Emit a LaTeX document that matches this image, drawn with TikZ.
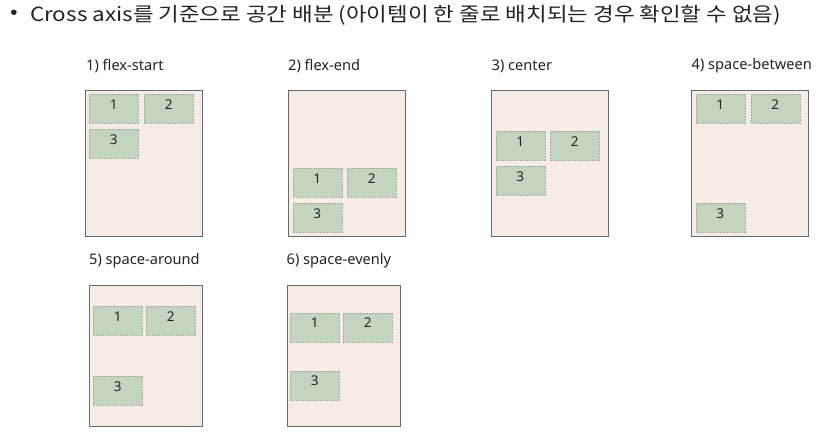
\documentclass[tikz,border=0pt]{standalone}
\usepackage{fontspec}
\setmainfont{Noto Sans}
\newfontfamily\krfont[FakeStretch=1.15]{Noto Sans CJK KR}
\definecolor{boxbg}{HTML}{F7ECE4}
\definecolor{boxborder}{HTML}{6A6A6A}
\definecolor{itemfill}{HTML}{C3D5BE}
\definecolor{itemborder}{HTML}{A3AFA0}
\definecolor{txt}{HTML}{222222}
\begin{document}
\begin{tikzpicture}[x=1pt,y=-1pt,
  container/.style={draw=boxborder,fill=boxbg,line width=0.8pt},
  item/.style={draw=itemborder,dash pattern=on 2pt off 1pt,line width=0.5pt,fill=itemfill,
    anchor=north west,minimum width=49pt,minimum height=29pt,inner sep=0pt},
  num/.style={font=\fontsize{13.5}{14}\selectfont,text=txt,inner sep=0pt},
  caption/.style={font=\fontsize{14.6}{15}\selectfont,text=txt,anchor=west,inner sep=0pt}]
\useasboundingbox (0,0) rectangle (824,441);
\node[font=\krfont\fontsize{19.5}{20}\selectfont,text=txt,inner sep=0pt] (bullet) at (14,14.5) {•};
\node[font=\krfont\fontsize{19.5}{20}\selectfont,text=txt,anchor=west,inner sep=0pt] (title) at (30,15)
  {Cross axis를 기준으로 공간 배분 (아이템이 한 줄로 배치되는 경우 확인할 수 없음)};
% panel 1
\node[caption] (c1) at (86,66) {1) flex-start};
\draw[container] (85,90) rectangle (202,236);
\node[item] (a1) at (89,94) {};
\node[item] (a2) at (144,94) {};
\node[item] (a3) at (89,129) {};
% panel 2
\node[caption] (c2) at (288,66) {2) flex-end};
\draw[container] (288.5,90) rectangle (405.5,236);
\node[item] (b1) at (292.5,168) {};
\node[item] (b2) at (347,168) {};
\node[item] (b3) at (292.5,203) {};
% panel 3
\node[caption] (c3) at (491.5,66) {3) center};
\draw[container] (491.5,90) rectangle (608.5,236);
\node[item] (d1) at (495.5,131) {};
\node[item] (d2) at (550,131) {};
\node[item] (d3) at (495.5,166) {};
% panel 4
\node[caption] (c4) at (691.5,66) {4) space-between};
\draw[container] (691.5,90) rectangle (808.5,236);
\node[item] (e1) at (695.5,94) {};
\node[item] (e2) at (750.5,94) {};
\node[item] (e3) at (695.5,203) {};
% panel 5
\node[caption] (c5) at (89,261) {5) space-around};
\draw[container] (89,285) rectangle (202.5,426);
\node[item] (f1) at (93,306) {};
\node[item] (f2) at (146,306) {};
\node[item] (f3) at (93,376) {};
% panel 6
\node[caption] (c6) at (286.5,261) {6) space-evenly};
\draw[container] (287,285) rectangle (400.5,426);
\node[item] (g1) at (290,312.5) {};
\node[item] (g2) at (343,312.5) {};
\node[item] (g3) at (290,370.5) {};
% numbers
\foreach \n in {a,b,d,e,f,g}{
  \node[num] at ([yshift=-10.5pt]\n1.north) {1};
  \node[num] at ([yshift=-10.5pt]\n2.north) {2};
  \node[num] at ([yshift=-10.5pt]\n3.north) {3};
}
\end{tikzpicture}
\end{document}
